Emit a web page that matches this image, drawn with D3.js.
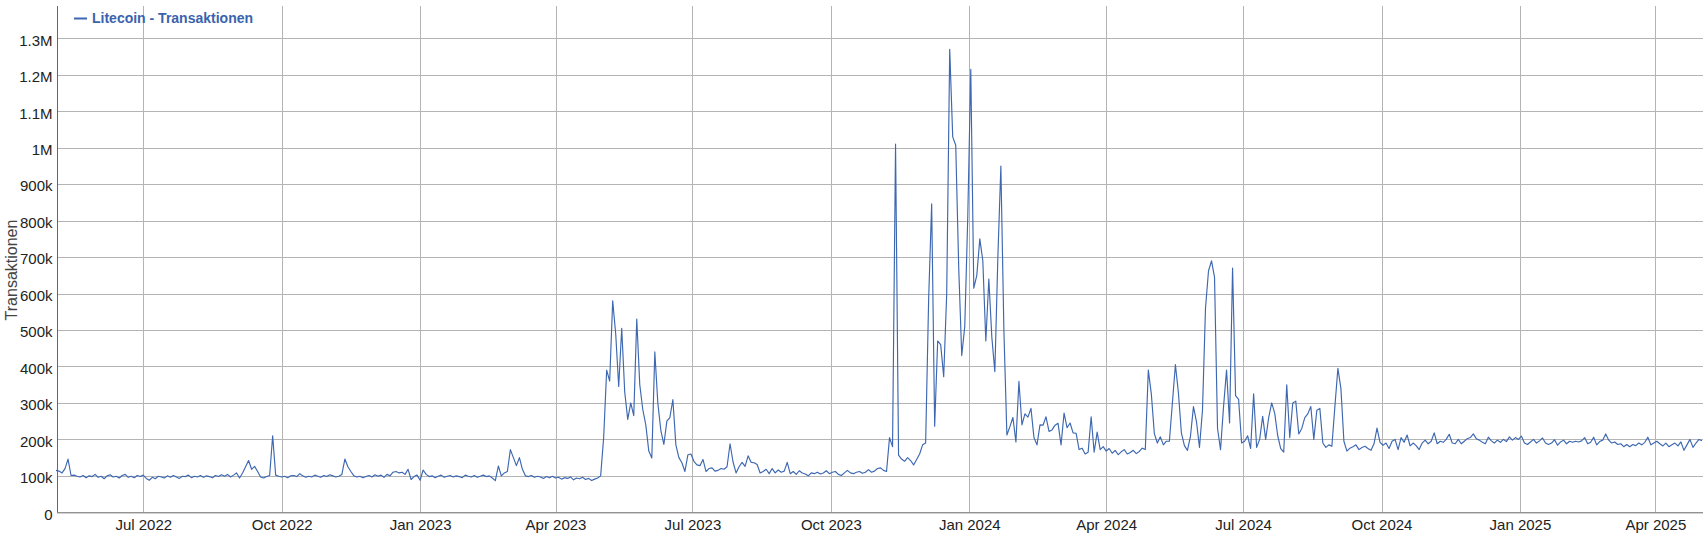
<!DOCTYPE html>
<html>
<head>
<meta charset="utf-8">
<script src="https://cdn.jsdelivr.net/npm/d3@7"></script>
<style>
  html, body { margin: 0; padding: 0; background: #fff; }
  svg { display: block; font-family: "Liberation Sans", Arial, sans-serif; }
</style>
</head>
<body>
<svg id="chart" width="1708" height="535"></svg>
<script>
// ---- data ----
const seriesName = "Litecoin - Transaktionen";
const yAxisTitle = "Transaktionen";
const startDate = "2022-05-04";   // first sample
const stepDays = 2;               // one sample every 2 days
// daily transactions, in thousands
const txThousands = [
  115,113,108,120,146,101,102,99,97,101,
  95,100,98,104,96,99,92,100,103,97,
  99,94,101,104,96,99,95,101,98,102,
  93,88,96,92,99,97,94,100,96,101,
  97,93,99,98,102,95,99,97,101,96,
  100,98,95,101,98,103,99,104,97,102,
  108,94,108,125,142,118,126,112,97,94,
  98,101,210,102,99,97,99,95,100,101,
  98,106,100,96,99,97,102,99,96,101,
  98,103,100,97,99,104,146,125,112,100,
  97,99,95,98,101,97,103,99,102,96,
  104,100,110,112,108,110,104,118,90,98,
  102,88,116,104,98,100,95,99,102,96,
  99,101,97,100,98,95,102,99,97,101,
  96,99,102,98,100,94,87,127,100,108,
  112,172,150,128,150,118,100,98,101,96,
  99,97,93,98,95,99,94,96,91,95,
  93,97,89,94,92,96,90,93,87,91,
  94,100,205,390,360,580,490,345,505,330,
  255,300,265,530,350,282,240,168,149,440,
  300,225,186,250,260,309,185,150,136,112,
  158,160,140,130,128,145,112,120,122,113,
  115,120,118,125,188,138,108,125,137,126,
  155,137,136,131,108,112,118,106,120,108,
  116,110,113,137,106,112,104,114,108,105,
  100,108,106,110,105,108,114,106,110,112,
  104,101,108,115,108,106,110,112,107,110,
  117,110,113,120,122,115,112,205,180,1010,
  157,146,140,150,142,130,145,160,185,190,
  585,846,236,470,460,372,600,1270,1030,1007,
  669,430,510,810,1215,615,650,750,690,470,
  640,480,386,700,950,500,212,235,260,193,
  359,240,270,261,285,205,185,240,239,262,
  222,226,239,244,185,272,232,245,218,217,
  172,176,160,165,262,165,220,172,180,168,
  175,162,170,158,166,172,160,164,170,161,
  167,176,172,390,325,216,190,207,185,195,
  195,300,405,328,217,183,170,208,290,249,
  178,280,560,662,690,645,230,172,290,390,
  245,670,320,310,190,195,210,175,325,178,
  200,263,200,260,300,272,210,175,165,350,
  205,300,305,215,230,260,270,290,200,280,
  285,190,178,185,181,290,395,340,195,168,
  176,180,185,172,178,181,175,170,188,231,
  192,184,190,175,195,200,172,205,192,212,
  182,190,183,172,190,198,188,195,218,188,
  195,192,200,214,190,188,200,188,195,202,
  205,215,202,198,192,188,206,196,190,198,
  192,200,194,207,198,205,200,209,190,186,
  193,200,190,196,204,190,186,190,199,184,
  193,198,188,195,192,195,193,196,205,188,
  192,206,185,194,198,215,198,190,193,186,
  188,180,186,180,186,183,190,185,192,206,
  185,190,195,188,182,190,180,185,190,182,
  193,170,185,200,178,190,200,196
];
const yTickValues = [0,100000,200000,300000,400000,500000,600000,700000,800000,900000,1000000,1100000,1200000,1300000];
const yTickLabels = ["0","100k","200k","300k","400k","500k","600k","700k","800k","900k","1M","1.1M","1.2M","1.3M"];
const xTickDates = ["2022-07-01","2022-10-01","2023-01-01","2023-04-01","2023-07-01","2023-10-01","2024-01-01","2024-04-01","2024-07-01","2024-10-01","2025-01-01","2025-04-01"];
const xTickLabels = ["Jul 2022","Oct 2022","Jan 2023","Apr 2023","Jul 2023","Oct 2023","Jan 2024","Apr 2024","Jul 2024","Oct 2024","Jan 2025","Apr 2025"];
const xDomainEnd = "2025-05-02";
const yDomainMax = 1389000;

(function () {
  const parse = d3.utcParse("%Y-%m-%d");
  const t0 = parse(startDate);
  const data = txThousands.map((v, i) => ({ date: d3.utcDay.offset(t0, i * stepDays), value: v * 1000 }));

  const pLeft = 57, pRight = 1703, pTop = 6, pBottom = 512.3;
  const x = d3.scaleUtc().domain([t0, parse(xDomainEnd)]).range([pLeft - 1, 1702]);
  const y = d3.scaleLinear().domain([0, yDomainMax]).range([pBottom, pTop]);

  const svg = d3.select("#chart");
  const gridColor = "#b4b4b4";
  const axisColor = "#666";
  const textColor = "#222";
  const lineColor = "#3d67b1";

  // horizontal gridlines
  svg.append("g")
    .selectAll("line").data(yTickValues.filter(d => d > 0)).join("line")
    .attr("x1", pLeft).attr("x2", pRight)
    .attr("y1", d => Math.round(y(d)) + 0.5).attr("y2", d => Math.round(y(d)) + 0.5)
    .attr("stroke", gridColor).attr("stroke-width", 1);

  // vertical gridlines
  const xTicks = xTickDates.map(parse);
  svg.append("g")
    .selectAll("line").data(xTicks).join("line")
    .attr("x1", d => Math.round(x(d)) + 0.5).attr("x2", d => Math.round(x(d)) + 0.5)
    .attr("y1", pTop).attr("y2", pBottom)
    .attr("stroke", gridColor).attr("stroke-width", 1);

  // line
  const line = d3.line().x(d => x(d.date)).y(d => y(d.value));
  svg.append("path")
    .datum(data)
    .attr("fill", "none")
    .attr("stroke", lineColor)
    .attr("stroke-width", 1.15)
    .attr("stroke-linejoin", "round")
    .attr("d", line);

  // y axis
  const yAxis = d3.axisLeft(y).tickValues(yTickValues)
    .tickFormat((d, i) => yTickLabels[i]).tickSize(0).tickPadding(5);
  const gy = svg.append("g").attr("transform", `translate(${pLeft + 0.5},0)`).call(yAxis);
  gy.select(".domain").attr("stroke", axisColor).attr("d", `M0,${pTop}V${pBottom}`);
  gy.selectAll("text").attr("font-size", 15).attr("fill", textColor)
    .attr("font-family", "'Liberation Sans', Arial, sans-serif").attr("dy", "0.45em");

  // x axis
  const xAxis = d3.axisBottom(x).tickValues(xTicks)
    .tickFormat((d, i) => xTickLabels[i]).tickSize(0).tickPadding(0);
  const gx = svg.append("g").attr("transform", `translate(0,${pBottom + 0.5})`).call(xAxis);
  gx.select(".domain").attr("stroke", axisColor).attr("d", `M${pLeft},0H${pRight}`);
  gx.selectAll("text").attr("font-size", 15).attr("fill", textColor)
    .attr("font-family", "'Liberation Sans', Arial, sans-serif")
    .attr("y", 17).attr("dy", 0);

  // y axis title
  svg.append("text")
    .attr("transform", "translate(16.5,270) rotate(-90)")
    .attr("text-anchor", "middle")
    .attr("font-size", 16).attr("fill", "#444")
    .text(yAxisTitle);

  // legend
  svg.append("line").attr("x1", 74).attr("x2", 87).attr("y1", 18.5).attr("y2", 18.5)
    .attr("stroke", lineColor).attr("stroke-width", 2);
  svg.append("text").attr("x", 92).attr("y", 23.3)
    .attr("font-size", 14).attr("font-weight", "bold").attr("fill", "#3a63ad")
    .text(seriesName);
})();
</script>
</body>
</html>
